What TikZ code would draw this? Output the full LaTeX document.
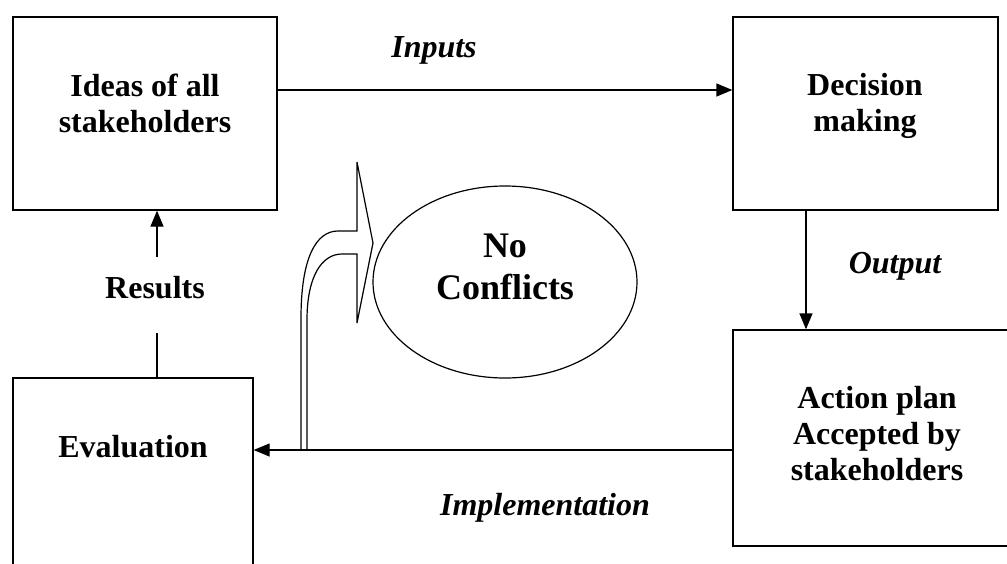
\documentclass[tikz,border=0pt]{standalone}
\usepackage{fontspec}
\setmainfont{Liberation Serif}
\usetikzlibrary{arrows.meta,shapes.geometric,calc}

\tikzset{
  box/.style={draw, line width=1.3pt, rectangle, inner sep=0pt},
  boxtext/.style={anchor=base, align=center, inner sep=0pt,
                  font=\fontsize{32}{36}\selectfont\bfseries},
  flowlabel/.style={anchor=base, inner sep=0pt,
                    font=\fontsize{32}{36}\selectfont\bfseries\itshape},
  conn/.style={line width=1.3pt},
  arr/.style={conn, -{Triangle[length=16pt,width=13pt]}},
  blockarrow/.style={line width=1.2pt, line join=miter}
}

\begin{document}
\begin{tikzpicture}[x=1pt, y=-1pt]
  \useasboundingbox (0,0) rectangle (1007,563);
  \clip (0,0) rectangle (1007,563);

  % boxes of the cycle
  \node[box, minimum width=264, minimum height=193] (ideas)    at (145,113.5) {};
  \node[box, minimum width=265, minimum height=193] (decision) at (865.5,113.5) {};
  \node[box, minimum width=288, minimum height=216] (action)   at (877,438) {};
  \node[box, minimum width=240, minimum height=193] (eval)     at (133,474.5) {};

  % box texts (base anchor sits on the last line)
  \node[boxtext] (ideasT)    at (145,132) {Ideas of all\\stakeholders};
  \node[boxtext] (decisionT) at (865,131) {Decision\\making};
  \node[boxtext] (actionT)   at (877,480) {Action plan\\Accepted by\\stakeholders};
  \node[boxtext] (evalT)     at (133,457) {Evaluation};

  % central ellipse
  \node[draw, ellipse, line width=1.2pt, minimum width=264, minimum height=192,
        inner sep=0pt] (noconf) at (505,282) {};
  \node[boxtext, font=\fontsize{36}{42}\selectfont\bfseries] (noconfT) at (505,299)
       {No\\Conflicts};

  % flow labels
  \node[flowlabel] (inputs) at (434,57)  {Inputs};
  \node[flowlabel] (output) at (895,273) {Output};
  \node[flowlabel] (impl)   at (545,515) {Implementation};
  \node[boxtext]   (results) at (155,298) {Results};

  % connectors
  \draw[arr] ([yshift=23.5pt]ideas.east) -- ([yshift=23.5pt]decision.west);
  \draw[arr] ([xshift=-59.5pt]decision.south) -- ([xshift=-71pt]action.north);
  \draw[arr] ([yshift=-12pt]action.west) -- ([yshift=24.5pt]eval.east);
  \coordinate (rtop) at (157,257);
  \coordinate (rbot) at (157,333);
  \draw[conn] (rbot) -- (rbot |- eval.north);
  \draw[arr]  (rtop) -- (rtop |- ideas.south);

  % curved block arrow rising from the implementation line
  \draw[blockarrow]
    (301,450) -- (301,318)
    .. controls (301,258) and (316,231) .. (338,231)
    -- (357,231) -- (357,162) -- (373,243) -- (357,323) -- (357,254)
    -- (342,254)
    .. controls (322,254) and (307,276) .. (307,320)
    -- (307,450);
\end{tikzpicture}
\end{document}
